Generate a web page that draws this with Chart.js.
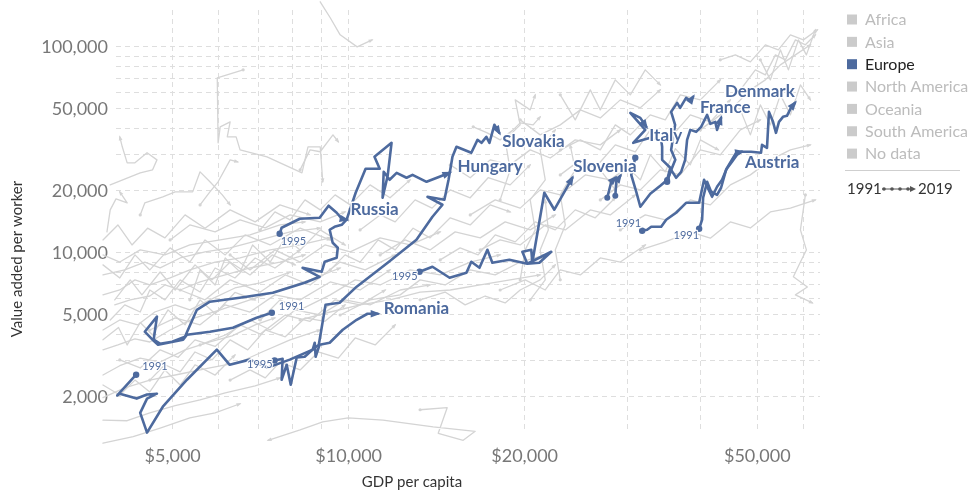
<!DOCTYPE html>
<html>
<head>
<meta charset="utf-8">
<script src="https://cdn.jsdelivr.net/npm/chart.js@4.4.0/dist/chart.umd.min.js"></script>
<style>
html, body { margin: 0; padding: 0; background: #fff; }
#wrap { position: relative; width: 969px; height: 490px; }
</style>
</head>
<body>
<div id="wrap"><canvas id="chart"></canvas></div>
<script>
// ============================================
// Data
// ============================================

const xGridValues = [5000, 6000, 7000, 8000, 9000, 10000, 20000, 30000, 40000, 50000, 60000];
const xTickLabels = [5000, 10000, 20000, 50000];
const yGridValues = [2000, 3000, 4000, 5000, 6000, 7000, 8000, 9000, 10000,
  20000, 30000, 40000, 50000, 60000, 70000, 80000, 90000, 100000];
const yTickLabels = [2000, 5000, 10000, 20000, 50000, 100000];

const legendRegions = ['Africa', 'Asia', 'Europe', 'North America', 'Oceania', 'South America', 'No data'];
const legendYears = [1991, 2019];

// highlighted European countries: GDP per capita / value added per worker
const russiaGdp = [7620, 7680, 8250, 8920, 9240, 9540, 9730, 9920];
const russiaVa = [12370, 13230, 14640, 14800, 16930, 15650, 14640, 14480];

const hungaryGdp = [7390, 6960, 6340, 5790, 5290, 5210, 4720, 4640, 4480, 4700, 4640, 4755, 4990, 5250, 5500,
  5790, 6510, 7420, 8410, 8920, 8340, 8990, 9100, 9540, 9580, 9390, 9280, 9460, 9730, 9920,
  10280, 10690, 11300, 11070, 11840, 11660, 11430, 11480, 11750, 12080, 12560, 12860, 13590, 14300, 14880];
const hungaryVa = [5120, 4840, 4330, 4140, 4000, 3790, 3580, 3740, 4140, 4900, 3790, 3620, 3700, 3920, 5290,
  5790, 6050, 6400, 7160, 7650, 8460, 8090, 9050, 9470, 10580, 11190, 12940, 13380, 13680, 14480,
  19570, 25580, 25580, 29260, 34200, 23660, 18500, 24730, 22630, 24460, 23140, 23910, 22120, 23400, 24460];

const slovakiaGdp = [4330, 4020, 4060, 4340, 4520, 4700, 4520, 4400, 4520, 4810, 5290, 5950, 6260, 6770, 7270,
  7930, 8680, 8890, 9130, 9650, 10320, 11660, 13060, 13910, 14470, 13640, 14580, 14820, 15050, 15290,
  16210, 16610, 16870, 17200, 17410, 17750, 18100];
const slovakiaVa = [2560, 2030, 2070, 1960, 2050, 2070, 1960, 1670, 1340, 1790, 2420, 3390, 2860, 3030, 2770,
  3030, 3390, 3580, 5600, 5720, 6850, 8950, 11570, 14970, 17120, 18710, 18090, 22630, 29260, 32720,
  30590, 35370, 34200, 36580, 34200, 41840, 38240];

const sloveniaGdp = [13220, 13910, 14880, 15900, 16210, 16740, 17270, 17610, 18830, 20210, 22210, 21190,
  20210, 19820, 20530, 20610, 21610, 22480, 24130];
const sloveniaVa = [8090, 8560, 7570, 8000, 9050, 8460, 10350, 8950, 9260, 8850, 10120, 8950,
  8850, 10120, 10350, 8950, 19570, 16190, 23140];

const romaniaGdp = [7470, 7710, 7680, 7835, 7960, 8150, 8410, 8680, 8750, 8780, 8920, 9280, 9770, 10320, 10770, 11210];
const romaniaVa = [3000, 3060, 2420, 2860, 2290, 3100, 3130, 3390, 3660, 3130, 3580, 3660, 4230, 4730, 5060, 5060];

const austriaGdp = [31770, 32400, 32920, 34240, 34920, 36320, 37770, 39760, 40540, 41030, 41840, 42670,
  43520, 44380, 45980, 47080];
const austriaVa = [12790, 12940, 13380, 13380, 14480, 15650, 17490, 17490, 22630, 20930, 18710, 20930,
  22630, 25870, 30590, 30930];

const denmarkGdp = [39760, 40230, 40390, 41030, 41680, 42670, 43350, 44210, 45260, 46160, 46900, 48780,
  50730, 50930, 51940, 52350, 53190, 53810, 54450, 55320, 56190, 57080, 57990];
const denmarkVa = [13080, 14480, 18500, 22120, 19790, 19130, 20700, 25290, 27660, 29910, 30930, 30930,
  30590, 33460, 32350, 48350, 43240, 38240, 43240, 45740, 46260, 50580, 53470];

const italyGdp = [30920, 30430, 31040, 31540, 32800, 34120, 35050, 35490, 34370, 34370, 34240, 32800,
  30670, 32160, 30320, 31540, 32290];
const italyVa = [28930, 23900, 19760, 16740, 19350, 21170, 22600, 25870, 28270, 32720, 35350, 36170,
  34200, 39530, 47800, 45200, 40910];

const franceGdp = [35050, 35610, 36320, 37040, 37630, 37920, 38400, 39290, 40070, 41030, 41550, 42380, 42670, 43350];
const franceVa = [22120, 25280, 23140, 24730, 28270, 35350, 39530, 38670, 40910, 46750, 42270, 43240, 39530, 45200];

// other European lines without a label
const otherEuGdp = [
  [35050, 36200, 35610, 36170, 35610, 36460, 36890, 37770, 38400, 38830],
  [27690, 28130, 28590],
  [28580, 28690, 29150]
];
const otherEuVa = [
  [22600, 28270, 31610, 41800, 48350, 53470, 50580, 56570, 54680, 57200],
  [18500, 22120, 23140],
  [18920, 22120, 23660]
];

// the rest of the world (greyed out)
const greyGdp = [
  [13250, 14740, 14230, 15700, 16460, 13950, 11450, 9980, 9030, 8260, 7280],
  [3800, 4180, 4570, 5050, 5570, 6150, 6920, 7630],
  [3800, 4280, 4760, 5350, 5910, 6520],
  [3800, 4140, 4570, 5150, 5790, 6520, 7110, 7940, 8940],
  [3800, 4060, 4400, 4760, 5250, 5790, 6320, 6920, 7480],
  [3800, 4030, 4310, 4570, 4950, 5460, 6030, 6780, 7630, 8590, 9670],
  [3800, 4060, 4360, 4660, 5050, 5350, 5790, 6390, 7060, 7940],
  [3800, 3980, 4230, 4570, 4850, 5150, 5570, 6150, 6780, 7630, 8420],
  [3800, 4060, 4310, 4570, 4950, 5350, 5910, 6520, 7340, 8260, 9300],
  [3800, 4140, 4480, 4760, 5150, 5680, 6270, 7060, 7940, 8940],
  [3800, 4060, 4400, 4850, 5350, 6030, 6780, 7630, 8420],
  [3860, 3910, 4000, 4180, 4060],
  [3910, 4400, 4620, 4700, 4520, 4310, 4180, 4100, 4060],
  [6600, 5960, 5980, 6030, 6270, 6200, 6420, 6520, 7250, 8320, 8520, 8940, 9030],
  [4400, 4480, 4810, 5050, 5410, 5570, 5790, 6080, 6270],
  [5570, 5790, 5980, 6270, 6460],
  [8260, 8590, 8940, 9400, 9600],
  [4570, 5050, 5570, 6150, 6780, 7480, 8260, 9300, 10460, 11770],
  [5150, 5680, 6270, 7060, 7790, 8590, 9670, 10670, 12010],
  [5570, 6150, 6780, 7340, 8100, 8940, 9860, 10880, 12250, 13780],
  [6270, 6780, 7480, 8260, 9110, 10060, 11320, 12740, 14340],
  [7060, 7630, 8260, 9300, 10260, 11320, 12740, 14340, 16140, 18160],
  [4950, 5350, 5910, 6520, 7200, 7940, 8940, 9860],
  [8260, 9300, 10460, 11770, 13250, 14920, 16790, 18890, 21260],
  [9670, 10880, 12250, 13250, 14620, 16140, 17810, 19650, 21690],
  [11320, 12490, 13780, 15210, 16790, 18520, 20440, 22560],
  [13250, 14620, 15820, 17120, 18520, 19650, 21260, 22560],
  [16140, 17810, 19650, 21260, 23010, 25390, 28020, 30320],
  [16790, 18160, 19650, 21690, 23470, 25900, 28020, 30920],
  [18160, 20040, 21690, 23010, 24900, 26940, 29150, 32160],
  [14920, 16140, 17460, 18890, 20440, 22120, 24410, 26940, 29150],
  [19650, 21260, 23010, 24900, 26940, 29150, 31540, 34120],
  [16330, 17260, 18160, 19120, 19650, 20680, 21260],
  [23010, 24900, 26940, 28580, 30320, 32800, 34800, 36920, 39950, 43220],
  [26940, 29150, 31540, 34120, 36920, 39950, 43220, 46770, 50600],
  [29150, 32160, 34800, 38400, 41550, 44960, 48650, 52640, 56960, 61630],
  [31540, 34800, 38400, 41550, 44960, 48650, 52640, 56960, 62850],
  [39950, 43220, 45860, 48650, 51610, 54750, 58090, 61630],
  [46770, 49620, 51610, 53690, 55840, 58090, 60420, 62850],
  [43220, 45860, 48650, 51610, 54310, 56960, 59950, 63350],
  [60420, 59250, 60660, 59250, 57630, 60900, 58090, 62110],
  [8940, 9300, 9670, 10340, 10970],
  [20440, 21690, 21260, 21950, 21690],
  [19650, 20040, 20850, 20440, 21690, 21260, 22560],
  [23010, 22560, 23470, 23010, 24410, 23930],
  [3800, 4040, 4180, 4400, 4620, 4910, 5250, 5570, 5910, 6390, 6920],
  [3800, 3980, 4230, 4430, 4760, 5050, 5460, 5840, 6270, 6780, 7400, 8100],
  [3800, 4060, 4310, 4570, 4950, 5350, 5680, 6150, 6650, 7340, 8260, 9300],
  [3800, 4030, 4260, 4530, 4850, 5250, 5680, 6270, 6920, 7630, 8590],
  [4570, 4850, 5150, 5460, 5840, 6270, 6720, 7200, 7790, 8420, 9110, 9860],
  [4060, 4400, 4760, 5110, 5460, 5910, 6520, 7060, 7790, 8590, 9480, 10460, 11550],
  [5350, 5570, 5910, 6150, 6520, 6850, 7340, 7790, 8260, 8940, 9860],
  [3910, 4140, 4400, 4570, 4850, 5150, 5570, 5910, 6390, 6920, 7480, 8260],
  [6270, 6780, 7200, 7630, 8260, 8870, 9600, 10260, 11100, 12010],
  [7060, 7480, 7940, 8420, 8940, 9480, 10060, 10880, 11770, 12740],
  [9300, 9860, 10460, 11230, 12010, 12890, 13780, 14920, 16140, 17460, 18890],
  [10460, 11320, 12010, 12990, 13890, 14920, 16140, 17320, 18890, 20440],
  [14340, 15510, 16650, 17810, 19270, 20850, 22560, 24410, 26410, 28580],
  [23010, 24900, 26410, 28580, 30920, 32800, 35490, 38400, 41550, 44960],
  [26940, 28580, 29730, 31540, 32800, 34800, 36200, 38400, 39950, 42890],
  [46770, 48650, 50600, 52640, 54750, 56960, 59250, 61630],
  [50600, 52640, 54750, 56510, 58780, 60660, 62850],
  [23010, 24410, 25900, 26940, 28580, 30320, 32160, 34120],
  [18160, 18890, 18520, 19650, 19270, 20440, 20850],
  [3800, 4060, 4310, 4570, 4850, 5150, 5460, 5910, 6390]
];
const greyVa = [
  [1730, 1770, 1330, 1230, 1360, 1430, 1540, 1580, 1510, 1380, 1230],
  [1540, 1530, 1670, 1810, 1930, 2090, 2260, 2470],
  [1190, 1280, 1410, 1580, 1670, 1850],
  [1980, 2210, 2410, 2580, 2760, 2950, 3300, 3780, 4220],
  [2550, 2830, 3080, 2950, 3380, 3690, 3950, 4470, 4830],
  [3380, 3570, 3820, 3690, 4220, 4830, 5280, 5910, 6600, 7390, 8440],
  [4220, 4720, 4470, 5160, 5590, 5280, 5910, 6750, 7140, 8070],
  [5160, 5590, 5910, 6170, 6980, 6600, 7220, 7810, 8440, 9020, 9770],
  [6250, 6600, 7390, 6980, 7550, 8260, 9020, 9440, 10330, 10920, 11820],
  [7810, 8260, 9020, 8450, 9440, 10100, 10570, 11550, 12640, 13170],
  [9770, 9020, 10330, 9770, 10920, 11550, 12220, 13660, 14130],
  [12640, 16160, 18280, 17470, 19760],
  [21370, 24440, 25280, 28270, 30600, 27340, 27340, 32720, 36580],
  [77330, 70700, 34200, 40910, 43240, 36580, 36580, 31610, 29260, 24460, 32720, 32720, 22120],
  [15280, 17470, 18710, 19760, 19760, 24730, 22120, 19110, 17090],
  [17090, 19760, 22120, 28270, 27660],
  [25280, 31610, 30950, 37380, 34620],
  [4220, 4830, 4470, 5590, 5160, 6250, 5910, 7220, 6600, 8260],
  [6600, 5910, 7390, 6450, 7810, 6980, 9020, 8260, 9770],
  [3570, 3990, 4720, 4220, 5280, 4990, 5910, 5590, 6600, 6980],
  [9770, 8260, 10330, 9020, 10920, 10100, 11820, 10920, 12640],
  [4720, 5910, 5280, 6250, 7390, 6980, 8260, 7810, 9020, 9770],
  [11550, 13660, 12640, 14450, 13210, 15280, 14130, 15800],
  [4720, 5160, 5590, 5910, 6450, 6600, 6980, 7390, 7810],
  [4990, 5910, 6250, 7390, 6980, 8260, 7810, 9020, 9770],
  [9770, 11550, 10330, 12640, 11820, 14130, 12920, 15280],
  [5910, 6450, 5590, 6170, 5710, 6600, 7390, 8740],
  [15280, 18070, 16480, 20210, 19110, 23900, 22600, 26730],
  [10330, 11550, 10920, 13660, 12920, 16160, 15280, 19110],
  [6600, 7390, 6600, 8260, 7810, 9440, 9020, 10920],
  [26730, 23150, 28270, 26730, 31610, 28860, 35350, 33430, 39530],
  [44210, 37380, 41800, 49440, 45180, 55290, 50600, 61830],
  [40910, 38240, 35350, 39530, 42770, 41800, 45740],
  [31610, 35350, 31610, 41800, 37380, 46750, 44210, 58470, 55290, 69150],
  [18070, 21370, 20210, 25280, 23900, 31610, 29890, 39530, 44210],
  [12920, 15280, 14450, 18070, 17090, 21370, 23900, 28270, 31610, 33430],
  [10330, 11300, 12640, 11780, 14130, 13200, 15800, 16480, 18070],
  [39530, 46750, 52280, 61830, 69150, 81780, 91450, 102300],
  [61830, 77330, 73130, 91450, 86480, 108100, 102300, 114400],
  [86480, 91450, 84490, 102300, 96700, 114400, 108100, 121000],
  [19110, 12920, 10330, 9020, 7650, 6820, 6250, 5710],
  [165500, 138500, 114400, 100000, 108100],
  [5910, 7390, 10330, 12920, 18070],
  [7390, 10330, 12920, 18070, 22600, 31610, 39530],
  [7390, 10330, 13660, 19110, 25280, 33430],
  [3780, 4340, 3570, 4590, 3990, 5280, 4470, 5910, 5060, 6420, 5910],
  [6980, 5910, 7390, 6250, 8070, 6600, 8740, 7390, 9020, 7810, 9770, 8740],
  [8740, 7550, 9770, 8260, 10570, 9020, 11550, 9770, 12220, 10920, 13170, 11550],
  [11550, 13660, 10920, 13170, 11820, 15280, 13170, 16160, 14130, 17090, 15280],
  [2410, 2860, 2640, 3300, 3020, 3780, 3380, 4220, 3910, 4830, 4650, 5590],
  [3020, 2760, 3380, 3110, 3780, 3510, 4470, 4030, 4990, 4650, 5910, 5590, 6600],
  [5910, 8260, 6980, 9440, 8080, 10920, 9020, 11820, 10330, 12920, 10920],
  [4720, 5590, 5160, 6600, 5910, 7390, 6450, 8440, 7550, 9440, 8440, 10330],
  [2410, 2700, 2470, 2950, 2700, 3300, 3080, 3860, 3570, 4470],
  [12920, 15800, 14450, 18070, 16160, 19110, 17090, 21370, 18500, 22600],
  [8260, 9770, 9020, 11550, 10330, 13170, 11820, 14790, 13660, 17090, 15800],
  [12920, 15280, 14130, 18070, 16480, 20210, 18500, 23150, 21370, 26730],
  [9240, 10570, 9770, 12220, 11300, 14130, 12920, 16160, 14790, 18500],
  [23900, 28270, 25870, 33430, 30910, 39530, 36170, 46750, 43240, 55290],
  [25280, 20210, 26730, 22600, 29890, 24730, 32040, 26730, 35350, 31610],
  [49440, 37380, 52280, 41800, 58470, 46750, 65390, 55290],
  [86480, 69150, 96700, 77330, 108100, 91450, 121000],
  [58470, 44210, 61830, 49440, 69150, 58470, 77330, 65390],
  [18070, 25280, 35350, 41800, 55290, 49440, 58470],
  [2280, 2040, 2410, 2110, 2700, 2280, 2860, 2550, 3190]
];

const europeSeries = [
  { name: 'Russia', gdp: russiaGdp, va: russiaVa, firstYear: 1995 },
  { name: 'Hungary', gdp: hungaryGdp, va: hungaryVa, firstYear: 1991 },
  { name: 'Slovakia', gdp: slovakiaGdp, va: slovakiaVa, firstYear: 1991 },
  { name: 'Slovenia', gdp: sloveniaGdp, va: sloveniaVa, firstYear: 1995 },
  { name: 'Romania', gdp: romaniaGdp, va: romaniaVa, firstYear: 1995 },
  { name: 'Austria', gdp: austriaGdp, va: austriaVa, firstYear: 1991 },
  { name: 'Denmark', gdp: denmarkGdp, va: denmarkVa, firstYear: 1991 },
  { name: 'Italy', gdp: italyGdp, va: italyVa, firstYear: null },
  { name: 'France', gdp: franceGdp, va: franceVa, firstYear: null }
];


// ============================================
// Styles
// ============================================

const blueColor = '#4d6a9e';
const greyColor = '#d4d4d4';
const fontFamily = 'Lato, "Open Sans", sans-serif';

// label placement (pixels, relative to last / first point)
const labelPos = {
  Russia:   { dx: 4,   dy: -10, ydx: 1,  ydy: 8,  yAlign: 'left' },
  Hungary:  { dx: 8,   dy: -6,  ydx: 7,  ydy: -6, yAlign: 'left' },
  Slovakia: { dx: 3,   dy: 9,   ydx: 6,  ydy: -8, yAlign: 'left' },
  Slovenia: { dx: 1,   dy: -11, ydx: -2, ydy: 5,  yAlign: 'right' },
  Romania:  { dx: 6,   dy: -5,  ydx: -2, ydy: 4,  yAlign: 'right' },
  Austria:  { dx: 3,   dy: 11,  ydx: -1, ydy: -7, yAlign: 'right' },
  Denmark:  { dx: -70, dy: -11, ydx: 0,  ydy: 7,  yAlign: 'right' },
  Italy:    { dx: 3,   dy: 9 },
  France:   { dx: -21, dy: -10 }
};


function toPoints(gdp, va) {
  return gdp.map((g, i) => ({ x: g, y: va[i] }));
}

function lineSet(gdp, va, color, width, dot, arrow, order) {
  return {
    data: toPoints(gdp, va),
    showLine: true,
    borderColor: color,
    backgroundColor: color,
    borderWidth: width,
    borderJoinStyle: 'round',
    borderCapStyle: 'round',
    pointRadius: ctx => ctx.dataIndex === 0 ? dot : 0,
    pointHoverRadius: 0,
    pointBorderWidth: 0,
    pointBackgroundColor: color,
    tension: 0,
    clip: false,
    order: order,
    arrowSize: arrow
  };
}

const datasets = [];

greyGdp.forEach((g, i) => {
  datasets.push(lineSet(g, greyVa[i], greyColor, 1.3, 1.6, 5, 2));
});

otherEuGdp.forEach((g, i) => {
  datasets.push(lineSet(g, otherEuVa[i], blueColor, 2.6, 3, 10, 1));
});

europeSeries.forEach(s => {
  const ds = lineSet(s.gdp, s.va, blueColor, 2.6, 3.2, 10, 0);
  ds.countryName = s.name;
  ds.firstYear = s.firstYear;
  datasets.push(ds);
});


// ============================================
// Plugins
// ============================================

const arrowPlugin = {
  id: 'arrowHeads',
  afterDatasetDraw(chart, args) {
    const ds = chart.data.datasets[args.index];
    const pts = args.meta.data;
    if (pts.length < 2) return;
    const a = pts[pts.length - 2];
    const b = pts[pts.length - 1];
    const ang = Math.atan2(b.y - a.y, b.x - a.x);
    const len = ds.arrowSize;
    const w = len * 0.75;
    const ctx = chart.ctx;
    ctx.save();
    ctx.translate(b.x, b.y);
    ctx.rotate(ang);
    ctx.beginPath();
    ctx.moveTo(len * 0.3, 0);
    ctx.lineTo(-len * 0.7, -w / 2);
    ctx.lineTo(-len * 0.7, w / 2);
    ctx.closePath();
    ctx.fillStyle = ds.borderColor;
    ctx.fill();
    ctx.restore();
  }
};

function haloText(ctx, text, x, y) {
  ctx.strokeText(text, x, y);
  ctx.fillText(text, x, y);
}

const labelPlugin = {
  id: 'countryLabels',
  afterDatasetsDraw(chart) {
    const ctx = chart.ctx;
    ctx.save();
    ctx.textBaseline = 'middle';
    ctx.lineJoin = 'round';
    chart.data.datasets.forEach((ds, i) => {
      if (!ds.countryName) return;
      const pts = chart.getDatasetMeta(i).data;
      const pos = labelPos[ds.countryName];
      const first = pts[0];
      const last = pts[pts.length - 1];

      if (ds.firstYear) {
        ctx.font = '11px ' + fontFamily;
        ctx.textAlign = pos.yAlign;
        ctx.strokeStyle = 'rgba(255,255,255,0.9)';
        ctx.lineWidth = 2.5;
        ctx.fillStyle = blueColor;
        haloText(ctx, String(ds.firstYear), first.x + pos.ydx, first.y + pos.ydy);
      }

      ctx.font = 'bold 17px ' + fontFamily;
      ctx.textAlign = 'left';
      ctx.strokeStyle = '#fff';
      ctx.lineWidth = 3;
      ctx.fillStyle = blueColor;
      haloText(ctx, ds.countryName, last.x + pos.dx, last.y + pos.dy);
    });
    ctx.restore();
  }
};

const framePlugin = {
  id: 'frameTexts',
  afterDraw(chart) {
    const ctx = chart.ctx;
    ctx.save();

    // axis titles
    ctx.fillStyle = '#333';
    ctx.font = '15px ' + fontFamily;
    ctx.textAlign = 'center';
    ctx.textBaseline = 'middle';
    ctx.fillText('GDP per capita', 412, 482);
    ctx.save();
    ctx.translate(17, 259);
    ctx.rotate(-Math.PI / 2);
    ctx.fillText('Value added per worker', 0, 0);
    ctx.restore();

    // legend
    ctx.textAlign = 'left';
    ctx.font = '16px ' + fontFamily;
    legendRegions.forEach((name, i) => {
      const y = 19.5 + i * 22.35;
      const on = name === 'Europe';
      ctx.fillStyle = on ? blueColor : '#cbcbcb';
      ctx.fillRect(847, y - 5, 10, 10);
      ctx.fillStyle = on ? '#222' : '#bcbcbc';
      ctx.fillText(name, 865, y + 0.5);
    });

    ctx.strokeStyle = '#cfcfcf';
    ctx.lineWidth = 1;
    ctx.beginPath();
    ctx.moveTo(845, 170.5);
    ctx.lineTo(960, 170.5);
    ctx.stroke();

    const ty = 189;
    ctx.font = '15px ' + fontFamily;
    ctx.fillStyle = '#333';
    ctx.fillText(String(legendYears[0]), 847, ty);
    ctx.fillText(String(legendYears[1]), 918, ty);
    ctx.strokeStyle = '#555';
    ctx.fillStyle = '#555';
    ctx.lineWidth = 1;
    ctx.beginPath();
    ctx.moveTo(882, ty);
    ctx.lineTo(911, ty);
    ctx.stroke();
    [884, 892, 900, 908].forEach(x => {
      ctx.beginPath();
      ctx.arc(x, ty, 1.8, 0, Math.PI * 2);
      ctx.fill();
    });
    ctx.beginPath();
    ctx.moveTo(916, ty);
    ctx.lineTo(910, ty - 3);
    ctx.lineTo(910, ty + 3);
    ctx.closePath();
    ctx.fill();

    ctx.restore();
  }
};


// ============================================
// Chart
// ============================================

new Chart(document.getElementById('chart'), {
  type: 'scatter',
  data: { datasets },
  options: {
    responsive: true,
    maintainAspectRatio: false,
    devicePixelRatio: 1,
    animation: false,
    events: [],
    layout: { padding: { left: 0, top: 10, right: 149, bottom: 0 } },
    plugins: {
      legend: { display: false },
      tooltip: { enabled: false }
    },
    scales: {
      x: {
        type: 'logarithmic',
        min: 4000,
        max: 64000,
        afterBuildTicks: s => { s.ticks = xGridValues.map(v => ({ value: v })); },
        afterFit: s => {
          s.height = 57;
          s.paddingLeft = 0;
          s.paddingRight = 0;
        },
        grid: { color: '#dedede', lineWidth: 1, drawTicks: false },
        border: { display: false, dash: [5, 4] },
        ticks: {
          autoSkip: false,
          maxRotation: 0,
          padding: 12,
          color: '#777',
          font: { family: fontFamily, size: 18 },
          callback: v => xTickLabels.includes(v) ? '$' + v.toLocaleString('en-US') : ''
        }
      },
      y: {
        type: 'logarithmic',
        min: 1334,
        max: 151000,
        afterBuildTicks: s => { s.ticks = yGridValues.map(v => ({ value: v })); },
        afterFit: s => {
          s.width = 116;
          s.paddingTop = 0;
          s.paddingBottom = 0;
        },
        grid: { color: '#dedede', lineWidth: 1, drawTicks: false },
        border: { display: false, dash: [5, 4] },
        ticks: {
          autoSkip: false,
          padding: 8,
          color: '#777',
          font: { family: fontFamily, size: 18 },
          callback: v => yTickLabels.includes(v) ? v.toLocaleString('en-US') : ''
        }
      }
    }
  },
  plugins: [arrowPlugin, labelPlugin, framePlugin]
});
</script>
</body>
</html>
